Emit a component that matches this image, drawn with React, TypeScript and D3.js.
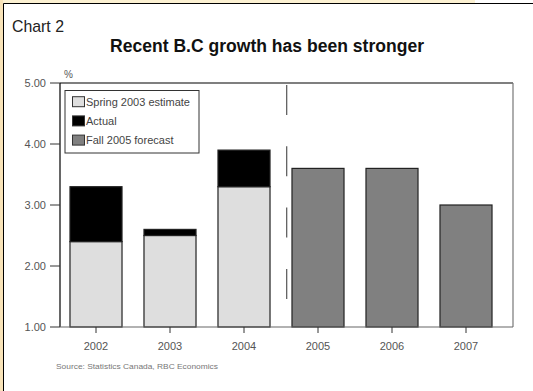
import React from "react";
import * as d3 from "d3";

const years = ["2002", "2003", "2004", "2005", "2006", "2007"];
const springEstimate = [2.4, 2.5, 3.3, null, null, null];
const actual = [3.3, 2.6, 3.9, null, null, null];
const fallForecast = [null, null, null, 3.6, 3.6, 3.0];
const yTicks = [1, 2, 3, 4, 5];
const legendLabels = ["Spring 2003 estimate", "Actual", "Fall 2005 forecast"];
const colors = ["#dedede", "#000000", "#808080"];

export default function App() {
  const W = 533, H = 391;
  const left = 60, right = 513, top = 83, bottom = 327;
  const x = d3.scaleBand<string>().domain(years).range([59, 503]).paddingInner(0.297).paddingOuter(0.1485);
  const y = d3.scaleLinear().domain([1, 5]).range([bottom, top]);
  const bw = x.bandwidth();
  const sepX = 286.7;
  const font = "'Liberation Sans', Arial, sans-serif";
  const narrow = "'Liberation Sans Narrow', 'Arial Narrow', 'Liberation Sans', sans-serif";

  const bars: any[] = [];
  years.forEach((yr, i) => {
    const x0 = x(yr)!;
    const s = springEstimate[i];
    const a = actual[i];
    const f = fallForecast[i];
    if (s != null) {
      bars.push(<rect key={yr + "s"} x={x0} y={y(s)} width={bw} height={y(1) - y(s)} fill={colors[0]} stroke="#222" strokeWidth={1.2} />);
    }
    if (a != null && s != null) {
      bars.push(<rect key={yr + "a"} x={x0} y={y(a)} width={bw} height={y(s) - y(a)} fill={colors[1]} stroke="#222" strokeWidth={1.2} />);
    }
    if (f != null) {
      bars.push(<rect key={yr + "f"} x={x0} y={y(f)} width={bw} height={y(1) - y(f)} fill={colors[2]} stroke="#222" strokeWidth={1.2} />);
    }
  });

  return (
    <svg width={W} height={H} style={{ position: "absolute", left: 0, top: 0, background: "#fff" }}>
      <rect x={0} y={0} width={W} height={H} fill="#fff" />
      <rect x={0} y={0} width={475} height={3} fill="#fcf1d2" />
      <rect x={0} y={0} width={3} height={H} fill="#f8e3b8" />
      <line x1={3.5} y1={3.5} x2={W} y2={3.5} stroke="#000" strokeWidth={1} />
      <line x1={3.5} y1={3.5} x2={3.5} y2={H} stroke="#000" strokeWidth={1} />

      <text x={12} y={32} fontFamily={narrow} fontSize={17} fill="#222" textLength={52} lengthAdjust="spacingAndGlyphs">Chart 2</text>
      <text x={110} y={52} fontFamily={narrow} fontSize={18} fontWeight="bold" fill="#111" textLength={314} lengthAdjust="spacingAndGlyphs">Recent B.C growth has been stronger</text>
      <text x={64} y={78} fontFamily={font} fontSize={10} fill="#555">%</text>

      {/* plot frame */}
      <line x1={left} y1={top} x2={right} y2={top} stroke="#000" strokeWidth={1.2} />
      <line x1={right} y1={top} x2={right} y2={bottom} stroke="#777" strokeWidth={1.2} />

      {bars}

      {/* separator */}
      <line x1={sepX} y1={85} x2={sepX} y2={300} stroke="#555" strokeWidth={1.2} strokeDasharray="30,31.3" />

      {/* y axis */}
      <line x1={left} y1={top} x2={left} y2={bottom} stroke="#000" strokeWidth={1.2} />
      {yTicks.map((t) => (
        <g key={t}>
          <line x1={50} y1={y(t)} x2={left} y2={y(t)} stroke="#333" strokeWidth={1} />
          <text x={46} y={y(t) + 4} textAnchor="end" fontFamily={font} fontSize={11} fill="#555">{t.toFixed(2)}</text>
        </g>
      ))}

      {/* x axis */}
      <line x1={left} y1={bottom} x2={right} y2={bottom} stroke="#666" strokeWidth={1.2} />
      {years.map((yr) => {
        const cx = x(yr)! + bw / 2;
        return (
          <g key={yr}>
            <line x1={cx} y1={bottom} x2={cx} y2={333} stroke="#333" strokeWidth={1} />
            <text x={cx} y={350} textAnchor="middle" fontFamily={font} fontSize={11} fill="#555">{yr}</text>
          </g>
        );
      })}

      {/* legend */}
      <rect x={65} y={90.5} width={134} height={62.5} fill="#fff" stroke="#333" strokeWidth={1} />
      {legendLabels.map((l, i) => {
        const cy = 101.7 + i * 19.2;
        return (
          <g key={l}>
            <rect x={72.5} y={cy - 5} width={12} height={10} fill={colors[i]} stroke="#333" strokeWidth={1} />
            <text x={86} y={cy + 4} fontFamily={font} fontSize={11} fill="#444">{l}</text>
          </g>
        );
      })}

      <text x={56} y={369} fontFamily={narrow} fontSize={8} fill="#777" textLength={162} lengthAdjust="spacingAndGlyphs">Source: Statistics Canada, RBC Economics</text>
    </svg>
  );
}
